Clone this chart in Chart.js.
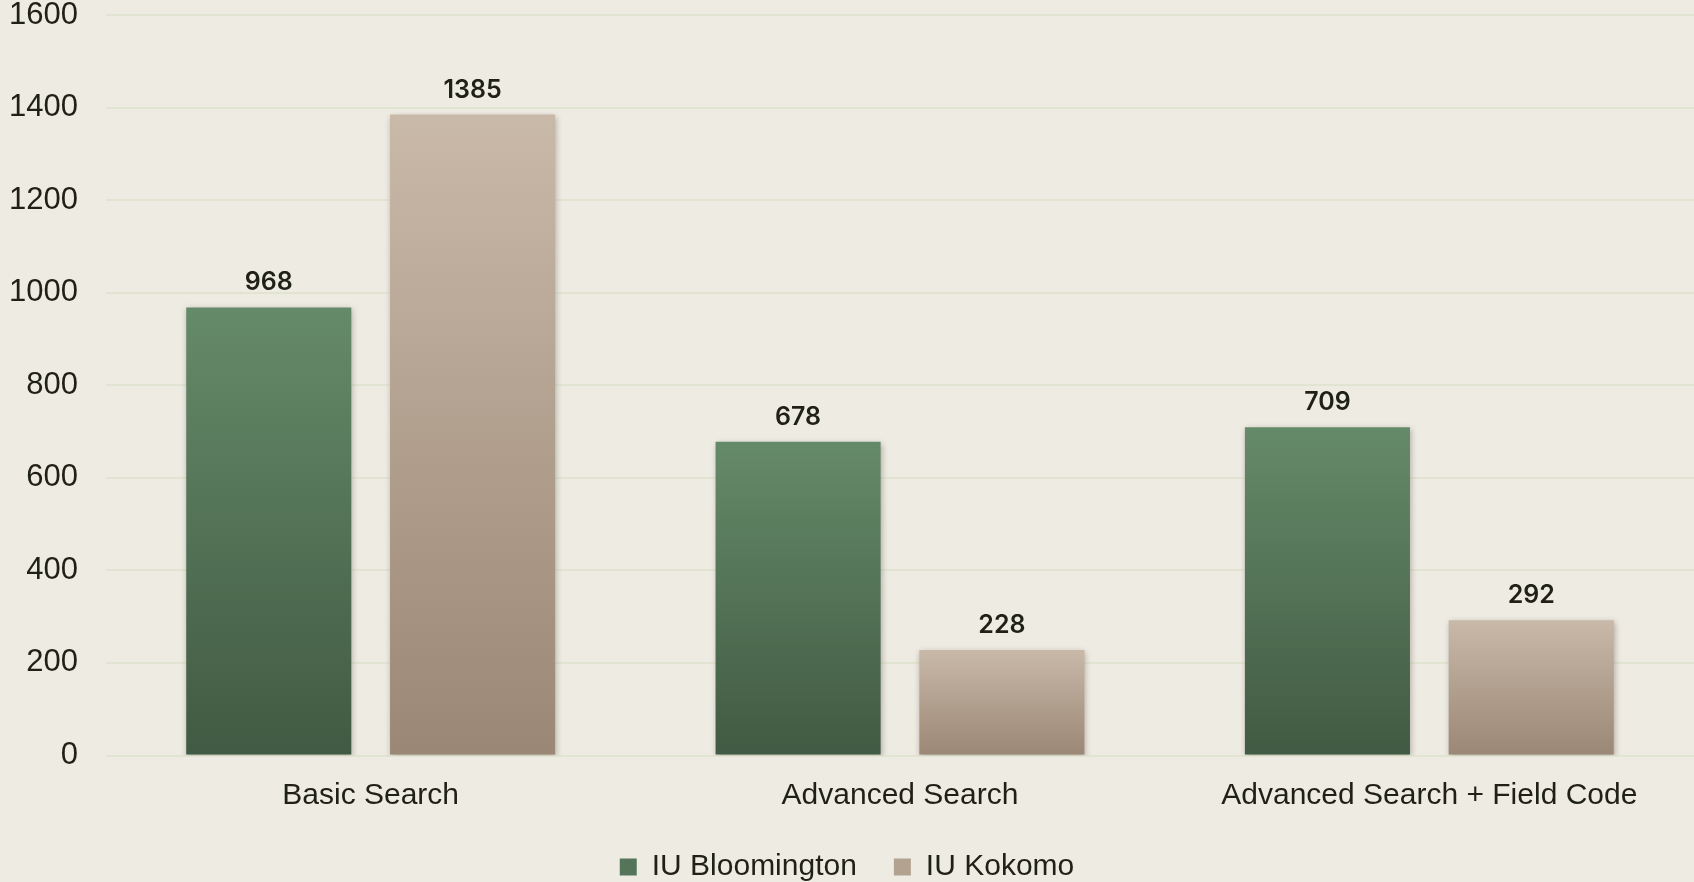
<!DOCTYPE html>
<html>
<head>
<meta charset="utf-8">
<script src="https://cdn.jsdelivr.net/npm/chart.js@4.4.1/dist/chart.umd.min.js"></script>
<style>
  html, body { margin: 0; padding: 0; background: #eeebe3; }
  #wrap { width: 1694px; height: 882px; position: relative; }
</style>
</head>
<body>
<div id="wrap"><canvas id="chart"></canvas></div>
<script>
const categories = ['Basic Search', 'Advanced Search', 'Advanced Search + Field Code'];
const bloomington = [968, 678, 709];
const kokomo = [1385, 228, 292];
const yTicks = [0, 200, 400, 600, 800, 1000, 1200, 1400, 1600];

const TEXT = '#1f2016';
const FONT = "'Liberation Sans', Arial, sans-serif";

function barGradient(top, bottom) {
  return (c) => {
    const chart = c.chart;
    const y = chart.scales.y;
    if (!chart.chartArea || !y || c.raw == null) return bottom;
    const y0 = y.getPixelForValue(0);
    const y1 = y.getPixelForValue(c.raw);
    if (!isFinite(y0) || !isFinite(y1) || y0 === y1) return bottom;
    const g = chart.ctx.createLinearGradient(0, y1, 0, y0);
    g.addColorStop(0, top);
    g.addColorStop(1, bottom);
    return g;
  };
}

// soft drop shadow behind bars
const barShadow = {
  id: 'barShadow',
  beforeDatasetDraw(chart) {
    const ctx = chart.ctx;
    ctx.save();
    ctx.shadowColor = 'rgba(60, 50, 40, 0.35)';
    ctx.shadowBlur = 6;
    ctx.shadowOffsetX = 1;
    ctx.shadowOffsetY = 2;
  },
  afterDatasetDraw(chart) {
    chart.ctx.restore();
  }
};

// value labels above bars
const valueLabels = {
  id: 'valueLabels',
  afterDatasetsDraw(chart) {
    const ctx = chart.ctx;
    ctx.save();
    ctx.font = `600 25px Inter, ${FONT}`;
    ctx.fillStyle = TEXT;
    ctx.textAlign = 'center';
    ctx.textBaseline = 'alphabetic';
    chart.data.datasets.forEach((ds, i) => {
      chart.getDatasetMeta(i).data.forEach((bar, j) => {
        ctx.fillText(String(ds.data[j]), bar.x, bar.y - 17);
      });
    });
    ctx.restore();
  }
};

new Chart(document.getElementById('chart'), {
  type: 'bar',
  data: {
    labels: categories,
    datasets: [
      {
        label: 'IU Bloomington',
        data: bloomington,
        backgroundColor: barGradient('#658a69', '#415a43'),
        borderWidth: 0
      },
      {
        label: 'IU Kokomo',
        data: kokomo,
        backgroundColor: barGradient('#c9b9a9', '#9b8775'),
        borderWidth: 0
      }
    ]
  },
  options: {
    responsive: true,
    maintainAspectRatio: false,
    animation: false,
    categoryPercentage: 0.77,
    barPercentage: 0.81,
    layout: { padding: { top: 15, right: 0, left: 0, bottom: -10 } },
    plugins: {
      legend: {
        position: 'bottom',
        labels: {
          color: TEXT,
          font: { family: FONT, size: 30 },
          boxWidth: 17,
          boxHeight: 17,
          padding: 37,
          generateLabels(chart) {
            const fills = ['#55755a', '#b3a290'];
            return chart.data.datasets.map((ds, i) => ({
              text: ds.label,
              fillStyle: fills[i],
              strokeStyle: fills[i],
              lineWidth: 0,
              datasetIndex: i,
              fontColor: TEXT
            }));
          }
        }
      },
      tooltip: { enabled: false }
    },
    scales: {
      x: {
        grid: { display: false, drawTicks: false },
        border: { display: false },
        afterFit(scale) {
          scale.height = 59.5;
        },
        ticks: {
          color: TEXT,
          font: { family: FONT, size: 30, lineHeight: 1 },
          padding: 25.5,
          maxRotation: 0
        }
      },
      y: {
        min: 0,
        max: 1600,
        afterBuildTicks(scale) {
          scale.ticks = yTicks.map(v => ({ value: v }));
        },
        afterFit(scale) {
          scale.width = 106;
          scale.paddingTop = 0;
          scale.paddingBottom = 0;
        },
        grid: { color: '#e2e4d2', lineWidth: 2, drawTicks: false },
        border: { display: false },
        ticks: {
          color: TEXT,
          font: { family: FONT, size: 31, lineHeight: 1 },
          padding: 28,
          callback: (v) => String(v)
        }
      }
    }
  },
  plugins: [barShadow, valueLabels]
});
</script>
</body>
</html>
